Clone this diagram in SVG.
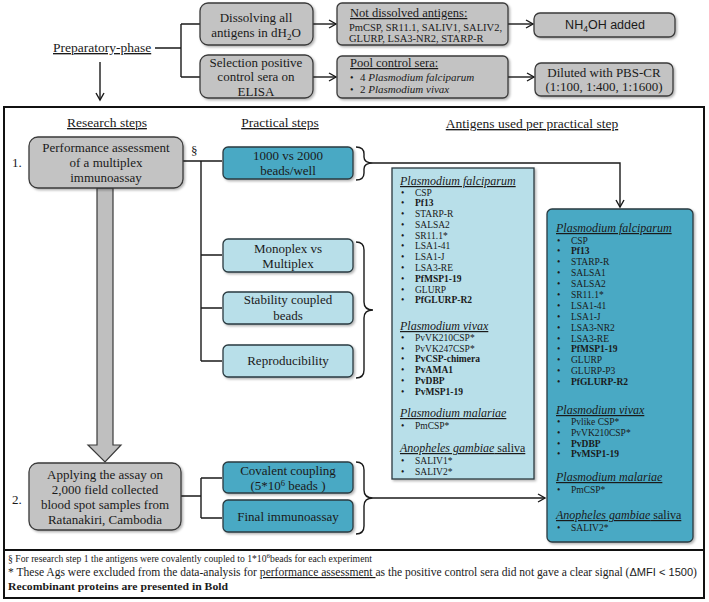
<svg xmlns="http://www.w3.org/2000/svg" width="709" height="602" viewBox="0 0 709 602">
<defs>
<style>
text{font-family:"Liberation Serif","Times New Roman",serif;fill:#1a1a1a}
.c{text-anchor:middle}
.b13{font-size:13px}
.h{font-size:13.5px;text-decoration:underline}
.gray{fill:#c3c3c3;stroke:#3a3a3a;stroke-width:1.3}
.dark{fill:#4aa9c4;stroke:#2a3a40;stroke-width:1.3}
.light{fill:#b8dfe9;stroke:#2a3a40;stroke-width:1.3}
.ln{fill:none;stroke:#1a1a1a;stroke-width:1.4}
.li{font-size:9.5px}
.bo{font-weight:bold}
.sp{font-size:12px;font-style:italic;text-decoration:underline}
.sans{font-family:"Liberation Sans",Arial,sans-serif}
</style>
<marker id="ar" markerWidth="10" markerHeight="10" refX="8" refY="5" orient="auto" markerUnits="userSpaceOnUse">
<path d="M1,1 L8,5 L1,9" fill="none" stroke="#1a1a1a" stroke-width="1.4"/>
</marker>
<filter id="sh" x="-10%" y="-10%" width="130%" height="130%">
<feDropShadow dx="1.5" dy="1.5" stdDeviation="1" flood-color="#000" flood-opacity="0.3"/>
</filter>
</defs>

<!-- outer frames -->
<rect x="4" y="107" width="700" height="443" fill="#fff" stroke="#111" stroke-width="2"/>
<rect x="4" y="550" width="700" height="48" fill="#fff" stroke="#111" stroke-width="2"/>

<g id="connectors">
<path class="ln" d="M155,48 H181 M181,24 V77 M181,24 H200 M181,77 H200"/>
<path class="ln" d="M100,62 V100" marker-end="url(#ar)"/>
<path class="ln" d="M313,24 H336" marker-end="url(#ar)"/>
<path class="ln" d="M313,77 H336" marker-end="url(#ar)"/>
<path class="ln" d="M508,24 H533" marker-end="url(#ar)"/>
<path class="ln" d="M508,77 H534" marker-end="url(#ar)"/>
<path class="ln" d="M183,161 H222 M201,161 V361 M201,255 H222 M201,308 H222 M201,361 H222"/>
<path class="ln" d="M181,496 H201 M201,478 V518 M201,478 H222 M201,518 H222"/>
<path class="ln" d="M356,147 Q364,147 364,154 L364,157 Q364,163 373,163 Q364,163 364,169 L364,173 Q364,180 356,180"/>
<path class="ln" d="M356,242 Q364,242 364,250 L364,302 Q364,310 373,310 Q364,310 364,318 L364,370 Q364,378 356,378"/>
<path class="ln" d="M356,462 Q364,462 364,470 L364,490 Q364,498 373,498 Q364,498 364,506 L364,526 Q364,534 356,534"/>
<path class="ln" d="M373,163 H620 V207" marker-end="url(#ar)"/>
<path class="ln" d="M373,498 H545" marker-end="url(#ar)"/>
<polygon points="97,188 113,188 113,445 121,445 105,462 88,445 97,445" fill="#bfbfbf" stroke="#3a3a3a" stroke-width="1.2"/>
</g>

<g id="prep">
<text x="53" y="52" class="h">Preparatory-phase</text>
</g>

<g id="dissolve">
<rect x="200" y="3" width="113" height="42" rx="8" class="gray" filter="url(#sh)"/>
<text x="256" y="22" class="c b13">Dissolving all</text>
<text x="256" y="37" class="c b13">antigens in dH<tspan dy="3" font-size="9">2</tspan><tspan dy="-3">O</tspan></text>
</g>

<g id="selection">
<rect x="200" y="55" width="113" height="43" rx="8" class="gray" filter="url(#sh)"/>
<text x="256" y="67" class="c b13">Selection positive</text>
<text x="256" y="81" class="c b13">control sera on</text>
<text x="256" y="96" class="c b13">ELISA</text>
</g>

<g id="notdissolved">
<rect x="337" y="3" width="171" height="42" rx="5" class="gray" filter="url(#sh)"/>
<text x="350" y="17" font-size="12.5" text-decoration="underline">Not dissolved antigens:</text>
<text x="349" y="31" font-size="10.5">PmCSP, SR11.1, SALIV1, SALIV2,</text>
<text x="349" y="42" font-size="10.5">GLURP, LSA3-NR2, STARP-R</text>
</g>

<g id="nh4oh">
<rect x="534" y="13" width="141" height="24" rx="6" class="gray" filter="url(#sh)"/>
<text x="605" y="29" class="c sans" font-size="12.5">NH<tspan dy="3" font-size="8.5">4</tspan><tspan dy="-3">OH added</tspan></text>
</g>

<g id="pool">
<rect x="337" y="56" width="171" height="42" rx="5" class="gray" filter="url(#sh)"/>
<text x="350" y="67" font-size="12.5" text-decoration="underline">Pool control sera:</text>
<text x="350" y="81" font-size="10">•</text>
<text x="360" y="81" font-size="11">4 <tspan font-style="italic">Plasmodium falciparum</tspan></text>
<text x="350" y="93" font-size="10">•</text>
<text x="360" y="93" font-size="11">2 <tspan font-style="italic">Plasmodium vivax</tspan></text>
</g>

<g id="diluted">
<rect x="535" y="63" width="138" height="33" rx="6" class="gray" filter="url(#sh)"/>
<text x="604" y="77" class="c b13">Diluted with PBS-CR</text>
<text x="604" y="91" class="c b13">(1:100, 1:400, 1:1600)</text>
</g>

<g id="headings">
<text x="107" y="127" class="c h">Research steps</text>
<text x="280" y="127" class="c h">Practical steps</text>
<text x="532" y="128" class="c h">Antigens used per practical step</text>
</g>

<g id="step1">
<text x="12" y="167" class="b13">1.</text>
<rect x="29" y="137" width="154" height="51" rx="9" class="gray" filter="url(#sh)"/>
<text x="106" y="152" class="c b13">Performance assessment</text>
<text x="106" y="167" class="c b13">of a multiplex</text>
<text x="106" y="182" class="c b13">immunoassay</text>
<text x="191" y="155" class="b13">§</text>
</g>

<g id="beads">
<rect x="223" y="147" width="130" height="32" rx="5" class="dark" filter="url(#sh)"/>
<text x="288" y="160" class="c b13">1000  vs 2000</text>
<text x="288" y="175" class="c b13">beads/well</text>
</g>

<g id="monoplex">
<rect x="223" y="239" width="130" height="33" rx="5" class="light" filter="url(#sh)"/>
<text x="288" y="253" class="c b13">Monoplex vs</text>
<text x="288" y="268" class="c b13">Multiplex</text>
</g>

<g id="stability">
<rect x="223" y="292" width="130" height="32" rx="5" class="light" filter="url(#sh)"/>
<text x="288" y="304" class="c b13">Stability coupled</text>
<text x="288" y="320" class="c b13">beads</text>
</g>

<g id="reproducibility">
<rect x="223" y="345" width="130" height="32" rx="5" class="light" filter="url(#sh)"/>
<text x="288" y="365" class="c b13">Reproducibility</text>
</g>

<g id="step2">
<text x="12" y="504" class="b13">2.</text>
<rect x="29" y="463" width="152" height="67" rx="9" class="gray" filter="url(#sh)"/>
<text x="105" y="479" class="c b13">Applying  the assay on</text>
<text x="105" y="494" class="c b13">2,000 field collected</text>
<text x="105" y="509" class="c b13">blood spot samples from</text>
<text x="105" y="524" class="c b13">Ratanakiri, Cambodia</text>
</g>

<g id="covalent">
<rect x="223" y="462" width="130" height="31" rx="5" class="dark" filter="url(#sh)"/>
<text x="288" y="475" class="c b13">Covalent coupling</text>
<text x="288" y="490" class="c b13">(5*10<tspan dy="-4" font-size="8.5">6</tspan><tspan dy="4"> beads )</tspan></text>
</g>

<g id="final">
<rect x="223" y="500" width="130" height="32" rx="5" class="dark" filter="url(#sh)"/>
<text x="288" y="521" class="c b13">Final immunoassay</text>
</g>

<g id="list1">
<rect x="392" y="168" width="142" height="311" class="light" stroke-width="1.3" filter="url(#sh)"/>
<text x="400" y="185" class="sp">Plasmodium falciparum</text>
<g class="li">
<text x="401" y="195.5">•</text><text x="415" y="195.5">CSP</text>
<text x="401" y="206.3">•</text><text x="415" y="206.3" class="bo">Pf13</text>
<text x="401" y="217">•</text><text x="415" y="217">STARP-R</text>
<text x="401" y="227.8">•</text><text x="415" y="227.8">SALSA2</text>
<text x="401" y="238.6">•</text><text x="415" y="238.6">SR11.1*</text>
<text x="401" y="249.4">•</text><text x="415" y="249.4">LSA1-41</text>
<text x="401" y="260.2">•</text><text x="415" y="260.2">LSA1-J</text>
<text x="401" y="271">•</text><text x="415" y="271">LSA3-RE</text>
<text x="401" y="281.8">•</text><text x="415" y="281.8" class="bo">PfMSP1-19</text>
<text x="401" y="292.6">•</text><text x="415" y="292.6">GLURP</text>
<text x="401" y="303.4">•</text><text x="415" y="303.4" class="bo">PfGLURP-R2</text>
</g>
<text x="400" y="330" class="sp">Plasmodium vivax</text>
<g class="li">
<text x="401" y="340.8">•</text><text x="415" y="340.8">PvVK210CSP*</text>
<text x="401" y="351.6">•</text><text x="415" y="351.6">PvVK247CSP*</text>
<text x="401" y="362.4">•</text><text x="415" y="362.4" class="bo">PvCSP-chimera</text>
<text x="401" y="373.2">•</text><text x="415" y="373.2" class="bo">PvAMA1</text>
<text x="401" y="384">•</text><text x="415" y="384" class="bo">PvDBP</text>
<text x="401" y="394.8">•</text><text x="415" y="394.8" class="bo">PvMSP1-19</text>
</g>
<text x="400" y="417" class="sp">Plasmodium malariae</text>
<g class="li">
<text x="401" y="428.5">•</text><text x="415" y="428.5">PmCSP*</text>
</g>
<text x="400" y="452" font-size="12"><tspan font-style="italic" text-decoration="underline">Anopheles gambiae</tspan><tspan text-decoration="underline"> saliva</tspan></text>
<g class="li">
<text x="401" y="464">•</text><text x="415" y="464">SALIV1*</text>
<text x="401" y="475">•</text><text x="415" y="475">SALIV2*</text>
</g>
</g>

<g id="list2">
<rect x="547" y="209" width="146" height="333" rx="5" class="dark" filter="url(#sh)"/>
<text x="556" y="232" class="sp">Plasmodium falciparum</text>
<g class="li">
<text x="557" y="243.5">•</text><text x="571" y="243.5">CSP</text>
<text x="557" y="254.3">•</text><text x="571" y="254.3" class="bo">Pf13</text>
<text x="557" y="265.2">•</text><text x="571" y="265.2">STARP-R</text>
<text x="557" y="276.1">•</text><text x="571" y="276.1">SALSA1</text>
<text x="557" y="287">•</text><text x="571" y="287">SALSA2</text>
<text x="557" y="297.9">•</text><text x="571" y="297.9">SR11.1*</text>
<text x="557" y="308.8">•</text><text x="571" y="308.8">LSA1-41</text>
<text x="557" y="319.7">•</text><text x="571" y="319.7">LSA1-J</text>
<text x="557" y="330.6">•</text><text x="571" y="330.6">LSA3-NR2</text>
<text x="557" y="341.5">•</text><text x="571" y="341.5">LSA3-RE</text>
<text x="557" y="352.4">•</text><text x="571" y="352.4" class="bo">PfMSP1-19</text>
<text x="557" y="363.3">•</text><text x="571" y="363.3">GLURP</text>
<text x="557" y="374.2">•</text><text x="571" y="374.2">GLURP-P3</text>
<text x="557" y="385.1">•</text><text x="571" y="385.1" class="bo">PfGLURP-R2</text>
</g>
<text x="556" y="414" class="sp">Plasmodium vivax</text>
<g class="li">
<text x="557" y="425">•</text><text x="571" y="425">Pvlike CSP*</text>
<text x="557" y="435.8">•</text><text x="571" y="435.8">PvVK210CSP*</text>
<text x="557" y="446.6">•</text><text x="571" y="446.6" class="bo">PvDBP</text>
<text x="557" y="457.4">•</text><text x="571" y="457.4" class="bo">PvMSP1-19</text>
</g>
<text x="556" y="481" class="sp">Plasmodium malariae</text>
<g class="li">
<text x="557" y="492.5">•</text><text x="571" y="492.5">PmCSP*</text>
</g>
<text x="556" y="519" font-size="12"><tspan font-style="italic" text-decoration="underline">Anopheles gambiae</tspan><tspan text-decoration="underline"> saliva</tspan></text>
<g class="li">
<text x="557" y="530.5">•</text><text x="571" y="530.5">SALIV2*</text>
</g>
</g>

<g id="footer">
<text x="8" y="562" font-size="9.7">§ For research step 1 the antigens were covalently coupled to 1*10<tspan dy="-4" font-size="7">6</tspan><tspan dy="4">beads for each experiment</tspan></text>
<text x="8" y="576" font-size="11.5" textLength="689" lengthAdjust="spacingAndGlyphs">* These Ags were excluded from the data-analysis  for <tspan text-decoration="underline">performance assessment </tspan>as the positive control sera did not gave a clear signal (<tspan class="sans" font-size="11">ΔMFI &lt; 1500</tspan>)</text>
<text x="8" y="590" font-size="11" font-weight="bold" textLength="220" lengthAdjust="spacingAndGlyphs">Recombinant proteins are presented in Bold</text>
</g>
</svg>
